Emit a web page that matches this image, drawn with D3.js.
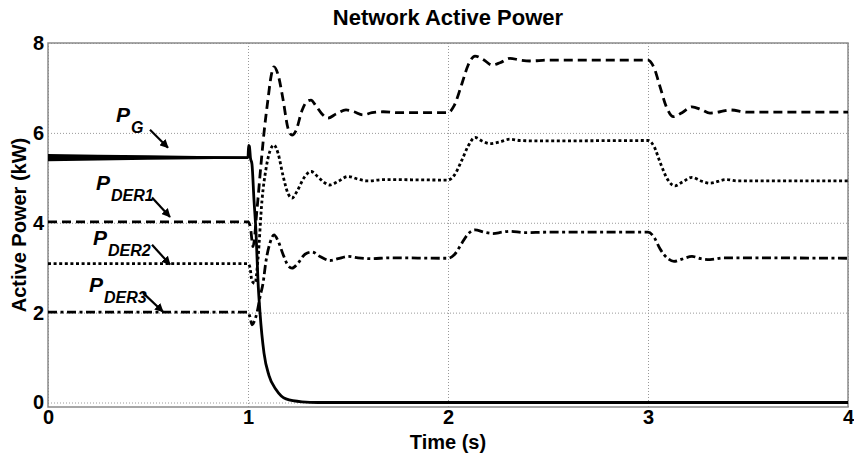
<!DOCTYPE html>
<html>
<head>
<meta charset="utf-8">
<script src="https://cdn.jsdelivr.net/npm/d3@7"></script>
<style>
    body { margin: 0; background: #fff; }
    text { font-family: "Liberation Sans", Arial, sans-serif; font-weight: bold; }
</style>
</head>
<body>
<div id="chart-area"></div>
<script>
// values (time in s, power in kW)
const gTime = [0, 1.0, 1.003, 1.007, 1.012, 1.02, 1.03, 1.04, 1.05, 1.06, 1.08, 1.105, 1.14, 1.19, 1.27, 1.35, 4];
const gPower = [5.45, 5.45, 5.72, 5.7, 5.45, 5.3, 4.5, 3.8, 2.7, 2.0, 1.1, 0.6, 0.29, 0.08, 0.015, 0, 0];

// ripple on P_G before the step (half band, kW)
const gRippleTime = [0, 0.25, 0.5, 0.75, 1.0];
const gRipple = [0.08, 0.065, 0.05, 0.035, 0.02];

const der1Time = [0, 1.0, 1.012, 1.025, 1.045, 1.065, 1.08, 1.1, 1.115, 1.13, 1.15, 1.175, 1.2, 1.22, 1.24, 1.27, 1.295, 1.315, 1.34, 1.37, 1.4, 1.44, 1.49, 1.53, 1.575, 1.62, 1.675, 1.75,
    2.0, 2.03, 2.07, 2.1, 2.135, 2.18, 2.22, 2.26, 2.31, 2.36, 2.41, 2.5,
    3.0, 3.03, 3.06, 3.09, 3.127, 3.17, 3.22, 3.265, 3.31, 3.36, 3.41, 3.5, 4];
const der1Power = [4.02, 4.02, 3.9, 3.47, 4.3, 5.3, 6.0, 6.75, 7.25, 7.47, 7.3, 6.75, 6.1, 5.95, 6.05, 6.5, 6.7, 6.73, 6.6, 6.42, 6.33, 6.42, 6.51, 6.47, 6.4, 6.45, 6.47, 6.45,
    6.45, 6.6, 7.1, 7.5, 7.71, 7.62, 7.51, 7.56, 7.66, 7.62, 7.6, 7.62,
    7.62, 7.45, 7.03, 6.6, 6.36, 6.45, 6.58, 6.52, 6.44, 6.47, 6.51, 6.46, 6.46];

const der2Time = [0, 1.0, 1.01, 1.02, 1.035, 1.05, 1.07, 1.09, 1.11, 1.13, 1.15, 1.175, 1.2, 1.22, 1.245, 1.28, 1.315, 1.35, 1.38, 1.41, 1.45, 1.5, 1.55, 1.6, 1.68,
    2.0, 2.03, 2.07, 2.1, 2.135, 2.17, 2.21, 2.26, 2.31, 2.36, 2.45,
    3.0, 3.03, 3.06, 3.1, 3.135, 3.17, 3.22, 3.265, 3.31, 3.39, 3.45, 4];
const der2Power = [3.09, 3.09, 3.0, 2.7, 2.65, 3.2, 4.5, 5.2, 5.6, 5.73, 5.55, 5.05, 4.65, 4.55, 4.7, 5.0, 5.14, 5.02, 4.9, 4.84, 4.92, 5.03, 4.97, 4.93, 4.96,
    4.95, 5.05, 5.4, 5.7, 5.9, 5.82, 5.76, 5.8, 5.86, 5.83, 5.82,
    5.83, 5.7, 5.35, 4.95, 4.82, 4.9, 5.01, 4.93, 4.88, 4.96, 4.93, 4.93];

const der3Time = [0, 1.0, 1.01, 1.02, 1.035, 1.045, 1.06, 1.075, 1.09, 1.11, 1.13, 1.15, 1.175, 1.2, 1.22, 1.25, 1.285, 1.32, 1.36, 1.41, 1.45, 1.5, 1.55, 1.62, 1.7,
    2.0, 2.03, 2.07, 2.1, 2.135, 2.18, 2.225, 2.27, 2.31, 2.38, 2.5,
    3.0, 3.03, 3.06, 3.1, 3.13, 3.17, 3.22, 3.265, 3.31, 3.38, 4];
const der3Power = [2.01, 2.01, 1.9, 1.73, 1.85, 2.0, 2.35, 2.65, 3.15, 3.55, 3.73, 3.6, 3.3, 3.05, 2.99, 3.1, 3.3, 3.35, 3.25, 3.16, 3.2, 3.25, 3.22, 3.2, 3.22,
    3.21, 3.28, 3.55, 3.75, 3.84, 3.79, 3.76, 3.79, 3.81, 3.78, 3.79,
    3.79, 3.68, 3.42, 3.2, 3.14, 3.19, 3.25, 3.2, 3.18, 3.22, 3.21];

const xTicks = [0, 1, 2, 3, 4];
const yTicks = [0, 2, 4, 6, 8];

// curve labels: name, subscript, text anchor (t, kW), arrow from/to (t, kW)
const labelNames = ["P", "P", "P", "P"];
const labelSubs = ["G", "DER1", "DER2", "DER3"];
const labelAt = [[0.34, 6.24], [0.24, 4.73], [0.225, 3.51], [0.205, 2.47]];
const arrowFrom = [[0.51, 6.07], [0.52, 4.56], [0.52, 3.51], [0.475, 2.44]];
const arrowTo = [[0.6, 5.67], [0.61, 4.13], [0.61, 3.07], [0.575, 2.02]];

class PowerChart {

    constructor(parentElement) {
        this.parentElement = parentElement;
        this.initVis();
    }

    initVis() {
        let vis = this;

        vis.width = 854;
        vis.height = 460;
        vis.margin = { top: 43, right: 6, bottom: 53, left: 48 };

        vis.svg = d3.select("#" + vis.parentElement)
            .append("svg")
            .attr("width", vis.width)
            .attr("height", vis.height);

        vis.x = d3.scaleLinear()
            .domain([0, 4])
            .range([vis.margin.left, vis.width - vis.margin.right]);

        vis.y = d3.scaleLinear()
            .domain([-0.1, 8])
            .range([vis.height - vis.margin.bottom, vis.margin.top]);

        // arrow head
        vis.svg.append("defs").append("marker")
            .attr("id", "head")
            .attr("viewBox", "0 0 10 10")
            .attr("refX", 9)
            .attr("refY", 5)
            .attr("markerWidth", 4)
            .attr("markerHeight", 4)
            .attr("orient", "auto")
            .append("path")
            .attr("d", "M0,0 L10,5 L0,10 z")
            .attr("fill", "#000");

        vis.drawAxes();
        vis.drawSeries();
        vis.drawLabels();
    }

    drawAxes() {
        let vis = this;
        const x0 = vis.x.range()[0], x1 = vis.x.range()[1];
        const y0 = vis.y.range()[0], y1 = vis.y.range()[1];

        // dotted grid
        vis.svg.append("g")
            .attr("transform", `translate(0, ${y0})`)
            .call(d3.axisBottom(vis.x).tickValues(xTicks).tickSize(-(y0 - y1)).tickFormat(""))
            .call(g => g.select(".domain").remove())
            .selectAll("line")
            .attr("stroke", "#999")
            .attr("stroke-dasharray", "1,2");

        vis.svg.append("g")
            .attr("transform", `translate(${x0}, 0)`)
            .call(d3.axisLeft(vis.y).tickValues(yTicks).tickSize(-(x1 - x0)).tickFormat(""))
            .call(g => g.select(".domain").remove())
            .selectAll("line")
            .attr("stroke", "#999")
            .attr("stroke-dasharray", "1,2");

        // tick labels
        vis.svg.append("g")
            .attr("transform", `translate(0, ${y0})`)
            .call(d3.axisBottom(vis.x).tickValues(xTicks).tickSize(0).tickPadding(3).tickFormat(d3.format("d")))
            .call(g => g.select(".domain").remove())
            .selectAll("text")
            .attr("fill", "#000")
            .style("font-size", "20px");

        vis.svg.append("g")
            .attr("transform", `translate(${x0}, 0)`)
            .call(d3.axisLeft(vis.y).tickValues(yTicks).tickSize(0).tickPadding(4).tickFormat(d3.format("d")))
            .call(g => g.select(".domain").remove())
            .selectAll("text")
            .attr("fill", "#000")
            .style("font-size", "20px");

        // box
        vis.svg.append("rect")
            .attr("x", x0)
            .attr("y", y1)
            .attr("width", x1 - x0)
            .attr("height", y0 - y1)
            .attr("fill", "none")
            .attr("stroke", "#8a8a8a")
            .attr("stroke-width", 1.5);

        vis.svg.append("text")
            .attr("x", (x0 + x1) / 2)
            .attr("y", 25)
            .attr("text-anchor", "middle")
            .style("font-size", "22px")
            .text("Network Active Power");

        vis.svg.append("text")
            .attr("x", (x0 + x1) / 2)
            .attr("y", 449)
            .attr("text-anchor", "middle")
            .style("font-size", "20px")
            .text("Time (s)");

        vis.svg.append("text")
            .attr("transform", `translate(26, ${(y0 + y1) / 2}) rotate(-90)`)
            .attr("text-anchor", "middle")
            .style("font-size", "20px")
            .text("Active Power (kW)");
    }

    drawSeries() {
        let vis = this;

        const line = d3.line()
            .x(d => vis.x(d[0]))
            .y(d => vis.y(d[1]))
            .curve(d3.curveMonotoneX);

        const series = [
            { t: der1Time, p: der1Power, dash: "9,5", w: 2.8 },
            { t: der2Time, p: der2Power, dash: "3,2.6", w: 2.8 },
            { t: der3Time, p: der3Power, dash: "9,3.5,3,3.5", w: 2.8 },
            { t: gTime, p: gPower, dash: null, w: 2.8 }
        ];

        vis.svg.selectAll(".series")
            .data(series)
            .enter()
            .append("path")
            .attr("class", "series")
            .attr("d", d => line(d.t.map((t, i) => [t, d.p[i]])))
            .attr("fill", "none")
            .attr("stroke", "#000")
            .attr("stroke-width", d => d.w)
            .attr("stroke-dasharray", d => d.dash);

        // ripple band on P_G
        const band = d3.area()
            .x(d => vis.x(d[0]))
            .y0(d => vis.y(gPower[0] - d[1]))
            .y1(d => vis.y(gPower[0] + d[1]));

        vis.svg.append("path")
            .attr("d", band(gRippleTime.map((t, i) => [t, gRipple[i]])))
            .attr("fill", "#000");
    }

    drawLabels() {
        let vis = this;

        const labels = vis.svg.selectAll(".curve-label")
            .data(labelNames)
            .enter()
            .append("text")
            .attr("class", "curve-label")
            .attr("x", (d, i) => vis.x(labelAt[i][0]))
            .attr("y", (d, i) => vis.y(labelAt[i][1]))
            .style("font-style", "italic");

        labels.append("tspan")
            .style("font-size", "21px")
            .text(d => d);

        labels.append("tspan")
            .attr("dx", 1)
            .attr("dy", 11)
            .style("font-size", "16px")
            .text((d, i) => labelSubs[i]);

        vis.svg.selectAll(".label-arrow")
            .data(labelNames)
            .enter()
            .append("line")
            .attr("class", "label-arrow")
            .attr("x1", (d, i) => vis.x(arrowFrom[i][0]))
            .attr("y1", (d, i) => vis.y(arrowFrom[i][1]))
            .attr("x2", (d, i) => vis.x(arrowTo[i][0]))
            .attr("y2", (d, i) => vis.y(arrowTo[i][1]))
            .attr("stroke", "#000")
            .attr("stroke-width", 2.2)
            .attr("marker-end", "url(#head)");
    }
}

new PowerChart("chart-area");
</script>
</body>
</html>
